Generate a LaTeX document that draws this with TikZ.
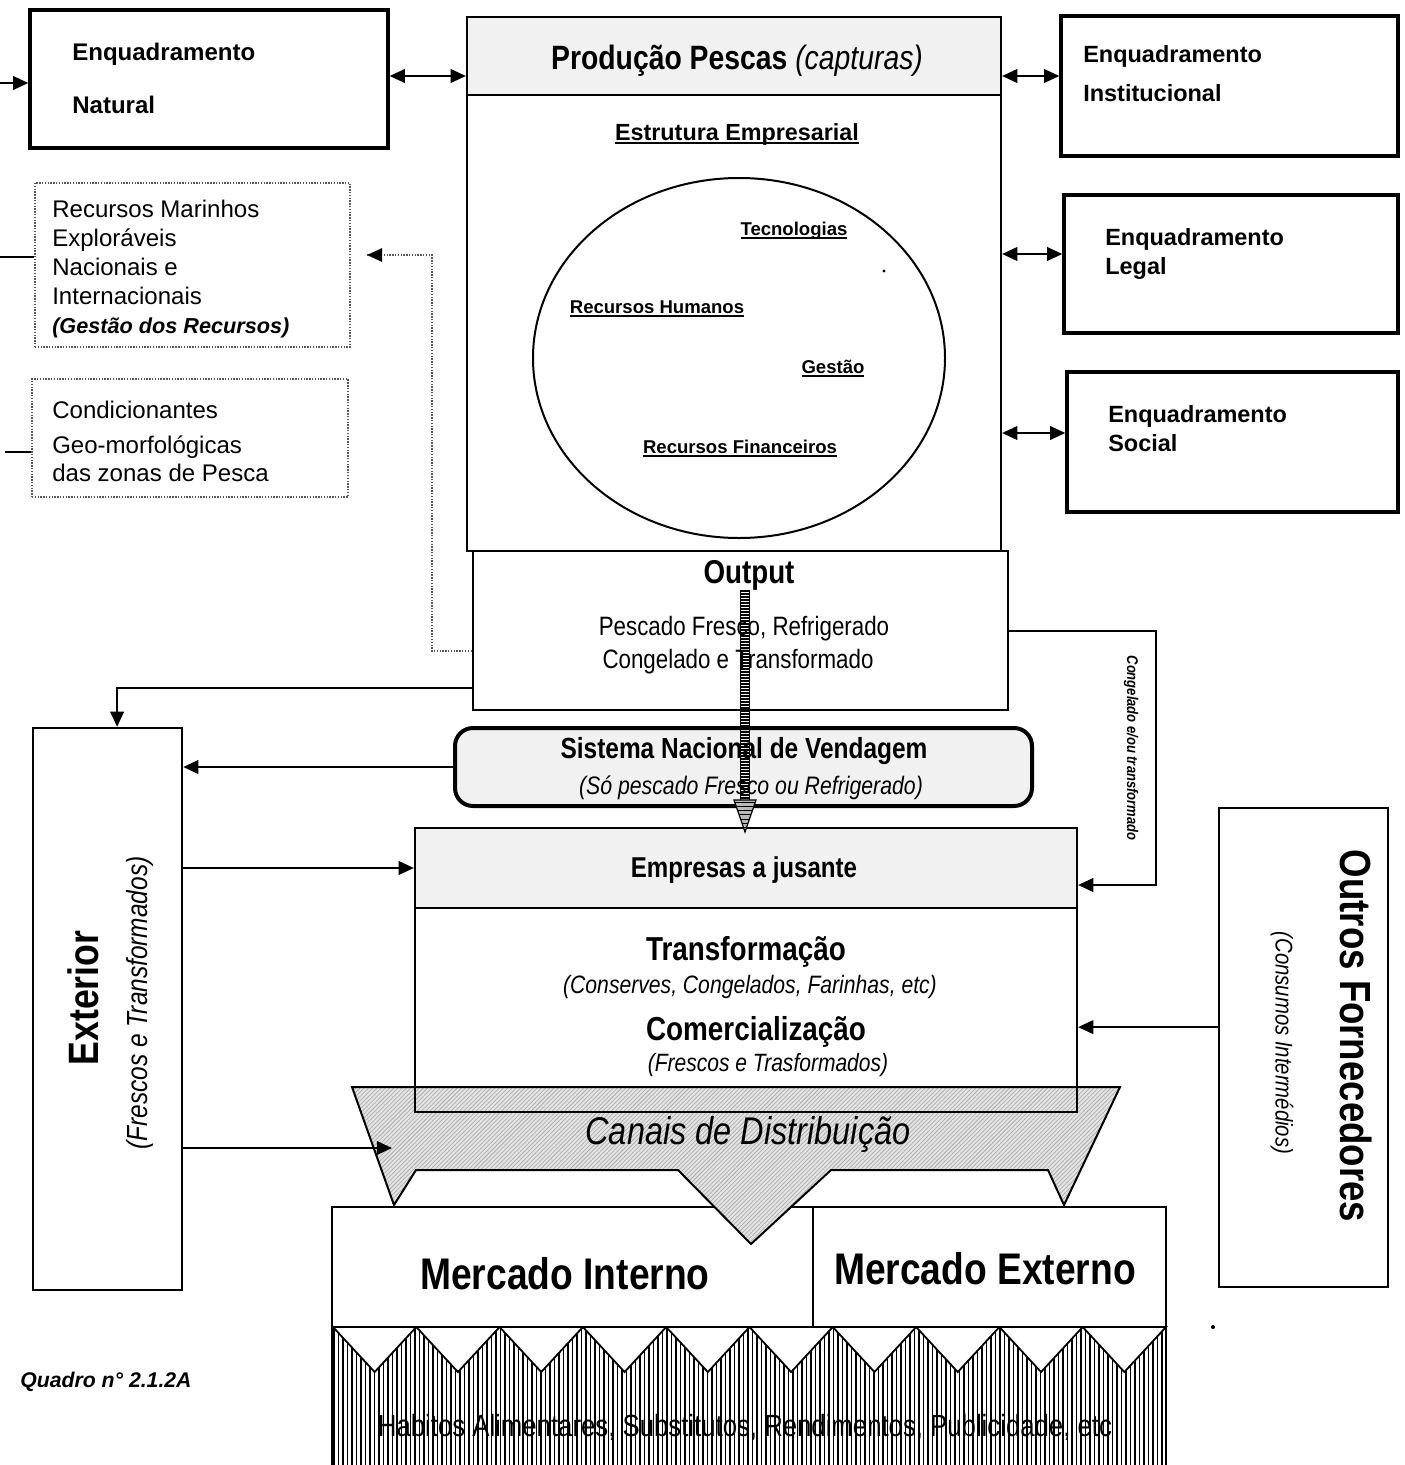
\documentclass[tikz,border=0pt]{standalone}
\usepackage{fontspec}
\setmainfont{Liberation Sans}
\newfontfamily\nar[FakeStretch=0.84]{Liberation Sans}
\usetikzlibrary{arrows.meta,fit,shapes.geometric,patterns}
\newcommand\fsz[1]{\fontsize{#1pt}{#1pt}\selectfont}
\newcommand\uln[1]{\leavevmode\setbox0\hbox{#1}\rlap{\vrule width\wd0 height -1.3pt depth 2.5pt}\box0}
\begin{document}
\begin{tikzpicture}[x=0.25mm,y=-0.25mm,
  box/.style={draw, line width=0.55mm, inner sep=0pt, fit={#1}},
  thk/.style={line width=0.85mm},
  shade/.style={fill=gray!11},
  dbox/.style={draw=gray!70!black, densely dotted, line width=0.35mm, inner sep=0pt, fit={#1}},
  tip/.style={-{Triangle[length=3.8mm,width=3.4mm]}},
  arr/.style={line width=0.5mm, tip},
  darr/.style={line width=0.5mm, {Triangle[length=3.8mm,width=3.4mm]}-{Triangle[length=3.8mm,width=3.4mm]}},
  lbl/.style={inner sep=0pt, anchor=base west},
  ctr/.style={inner sep=0pt, anchor=base},
  rot/.style={inner sep=0pt, anchor=center},
]
\useasboundingbox (0,0) rectangle (1405,1465);

% ---------- Enquadramento Natural
\node[box={(30,10) (388,148)}, thk] (nat) {};
\node[lbl, font={\fsz{17.1}\bfseries}] (natT1) at (72,60.5) {Enquadramento};
\node[lbl, font={\fsz{17.1}\bfseries}] (natT2) at (72,113) {Natural};
\coordinate (natIn) at (0,83);
\draw[arr] (natIn) -- (natIn -| nat.west);

% ---------- Main column
\node[box={(467,17) (1001,95)}, shade] (prod) {};
\node[box={(467,17) (1001,551)}] (main) {};
\node[box={(473,551) (1008,710)}] (out) {};
\node[ctr] (prodT) at (737,69) {\nar\fsz{24}\textbf{Produção Pescas} \textit{(capturas)}};
\node[ctr, font={\fsz{16.6}\bfseries}] (estT) at (737,140) {\uln{Estrutura Empresarial}};
\node[draw, ellipse, line width=0.5mm, minimum width=103mm, minimum height=90mm, inner sep=0pt] (ell) at (739,358) {};
\node[ctr, font={\fsz{13.2}\bfseries}] (tec) at (794,235.5) {\uln{Tecnologias}};
\node[ctr, font={\fsz{13.2}\bfseries}] (rh) at (657,313.5) {\uln{Recursos Humanos}};
\node[ctr, font={\fsz{13.2}\bfseries}] (ges) at (833,373.5) {\uln{Gestão}};
\node[ctr, font={\fsz{13.2}\bfseries}] (rf) at (740,453.5) {\uln{Recursos Financeiros}};
\fill (884,271) circle (0.4mm);
\node[ctr] (outT) at (749,583.5) {\nar\fsz{23.5}\bfseries Output};
\node[ctr] (outT1) at (744,635.5) {\nar\fsz{18.9}Pescado Fresco, Refrigerado};
\node[ctr] (outT2) at (738,668.5) {\nar\fsz{18.9}Congelado e Transformado};

% ---------- Enquadramentos (right)
\node[box={(1061,16) (1398,156)}, thk] (inst) {};
\node[lbl, font={\fsz{16.7}\bfseries}] (instT1) at (1083,62) {Enquadramento};
\node[lbl, font={\fsz{16.7}\bfseries}] (instT2) at (1083,101) {Institucional};
\node[box={(1064,195) (1398,333)}, thk] (leg) {};
\node[lbl, font={\fsz{16.7}\bfseries}] (legT1) at (1105,245) {Enquadramento};
\node[lbl, font={\fsz{16.7}\bfseries}] (legT2) at (1105,274) {Legal};
\node[box={(1067,372) (1398,512)}, thk] (soc) {};
\node[lbl, font={\fsz{16.7}\bfseries}] (socT1) at (1108,422) {Enquadramento};
\node[lbl, font={\fsz{16.7}\bfseries}] (socT2) at (1108,451) {Social};

\coordinate (natR) at ([yshift=0.75mm]nat.east);
\draw[darr] (natR) -- (natR -| main.west);
\coordinate (instL) at ([yshift=2.5mm]inst.west);
\draw[darr] (instL -| main.east) -- (instL);
\coordinate (legL) at ([yshift=2.5mm]leg.west);
\draw[darr] (legL -| main.east) -- (legL);
\coordinate (socL) at ([yshift=2.25mm]soc.west);
\draw[darr] (socL -| main.east) -- (socL);

% ---------- dotted boxes (left)
\node[dbox={(35,183) (350,347)}] (rec) {};
\node[lbl, font=\fsz{17.1}] (recT1) at (52,217) {Recursos Marinhos};
\node[lbl, font=\fsz{17.1}] (recT2) at (52,246) {Exploráveis};
\node[lbl, font=\fsz{17.1}] (recT3) at (52,275) {Nacionais e};
\node[lbl, font=\fsz{17.1}] (recT4) at (52,304) {Internacionais};
\node[lbl, font={\fsz{15.4}\bfseries\itshape}] (recT5) at (52,333) {(Gestão dos Recursos)};
\coordinate (recL) at (0,257);
\draw[line width=0.5mm] (recL) -- (recL -| rec.west);

\node[dbox={(32,379) (348,497)}] (cond) {};
\node[lbl, font=\fsz{17.1}] (condT1) at (52,418) {Condicionantes};
\node[lbl, font=\fsz{17.1}] (condT2) at (52,453) {Geo-morfológicas};
\node[lbl, font=\fsz{17.1}] (condT3) at (52,481) {das zonas de Pesca};
\coordinate (condL) at (5,452);
\draw[line width=0.5mm] (condL) -- (condL -| cond.west);

\coordinate (outL1) at ([yshift=-5.1mm]out.west);
\coordinate (dA) at (432,255);
\coordinate (recArr) at (367,255);
\draw[densely dotted, draw=gray!70!black, line width=0.35mm] (outL1) -| (dA) -- (recArr);
\draw[tip, line width=0.35mm, draw=black] ([xshift=1mm]recArr) -- (recArr);

% ---------- Exterior
\node[box={(33,728) (182,1290)}, line width=0.6mm] (ext) {};
\node[rot, rotate=90] (extT) at (83,998) {\nar\fsz{30.2}\bfseries Exterior};
\node[rot, rotate=90] (extS) at (140,1003) {\nar\fsz{20.7}\itshape (Frescos e Transformados)};
\coordinate (outL2) at ([yshift=-14.4mm]out.west);
\coordinate (extTop) at ([xshift=2.4mm]ext.north);
\draw[arr] (outL2) -| (extTop);

% ---------- Sistema Nacional de Vendagem
\node[box={(455,728) (1032,806)}, rounded corners=4.5mm, line width=1mm, shade] (sis) {};
\node[ctr] (sisT1) at (744,758) {\nar\fsz{20.7}\bfseries Sistema Nacional de Vendagem};
\node[ctr] (sisT2) at (751,794) {\nar\fsz{18}\itshape (Só pescado Fresco ou Refrigerado)};
\draw[arr] (sis.west) -- (sis.west -| ext.east);

% ---------- Mercados
\node[box={(332,1207) (813,1327)}, fill=white] (mi) {};
\node[box={(813,1207) (1166,1327)}, fill=white] (me) {};
\node[ctr] (miT) at (565,1289) {\nar\fsz{31.5}\bfseries Mercado Interno};
\node[ctr] (meT) at (985,1284) {\nar\fsz{31.5}\bfseries Mercado Externo};

% ---------- Canais de Distribuicao
\draw[line width=0.5mm, preaction={fill=gray!22}, preaction={pattern=north east lines, pattern color=gray!70}]
  (352,1087) -- (1120,1087) -- (1064,1205) -- (1048,1170) -- (831,1170) -- (751,1244)
  -- (678,1170) -- (416,1170) -- (394,1205) -- cycle;
\node[ctr] (canT) at (748,1144) {\nar\fsz{27.5}\itshape Canais de Distribuição};
\coordinate (canL) at (392,1148);
\draw[arr] (ext.east |- canL) -- (canL);

% ---------- Empresas a jusante
\node[box={(415,828) (1077,908)}, shade] (emph) {};
\node[box={(415,828) (1077,1112)}] (emp) {};
\node[ctr] (empT) at (744,877) {\nar\fsz{20.4}\bfseries Empresas a jusante};
\node[ctr] (trT) at (746,960) {\nar\fsz{23.6}\bfseries Transformação};
\node[ctr] (trS) at (750,993) {\nar\fsz{17.9}\itshape (Conserves, Congelados, Farinhas, etc)};
\node[ctr] (coT) at (756,1040) {\nar\fsz{23.6}\bfseries Comercialização};
\node[ctr] (coS) at (768,1071) {\nar\fsz{17.8}\itshape (Frescos e Trasformados)};
\draw[arr] (ext.east |- emph.west) -- (emph.west);

% ---------- Congelado e/ou transformado
\coordinate (cR) at (1156,885);
\draw[arr] (out.east) -| (cR) -- (cR -| emp.east);
\node[rot, rotate=-90] (cgT) at (1131,748) {\nar\fsz{11}\bfseries\itshape Congelado e/ou transformado};

% ---------- Outros Fornecedores
\node[box={(1219,808) (1388,1287)}] (ofn) {};
\node[rot, rotate=-90] (ofT) at (1356,1036) {\nar\fsz{31}\bfseries Outros Fornecedores};
\node[rot, rotate=-90] (ofS) at (1282,1043) {\nar\fsz{17.2}\itshape (Consumos Intermédios)};
\coordinate (ofL) at ([yshift=5.1mm]ofn.west);
\draw[arr] (ofL) -- (ofL -| emp.east);

% ---------- striped central arrow
\coordinate (sA) at (745,590);
\coordinate (sM) at (745,800);
\coordinate (sB) at (745,832);
\draw[line width=2.2mm, dash pattern=on 0.5mm off 0.25mm] (sA) -- (sM);
\draw[line width=0.2mm] ([xshift=-1.1mm]sA) -- ([xshift=-1.1mm]sM);
\draw[line width=0.2mm] ([xshift=1.1mm]sA) -- ([xshift=1.1mm]sM);
\draw[line width=0.3mm, preaction={fill=gray!55}, pattern=horizontal lines] (734,800) -- (756,800) -- (sB) -- cycle;

% ---------- bottom hatched band
\foreach \i in {0,...,184} \draw[line width=0.32mm] ({334+4.5*\i},1327) -- ++(0,138);
\draw[line width=0.5mm] (332,1327) -- (332,1465) (1166,1327) -- (1166,1465);
\foreach \i in {0,...,9}
  \filldraw[fill=white, line width=0.45mm] ({333+83.3*\i},1327) -- ({333+83.3*(\i+1)},1327) -- ({333+83.3*(\i+0.5)},1372) -- cycle;
\node[ctr] (hab) at (745,1436) {\nar\fsz{21.8}Habitos Alimentares, Substitutos, Rendimentos, Publicidade, etc};
\fill (1213,1327) circle (0.5mm);

% ---------- caption
\node[lbl, font={\fsz{15.1}\bfseries\itshape}] (quadro) at (20,1387.5) {Quadro n° 2.1.2A};
\end{tikzpicture}
\end{document}
